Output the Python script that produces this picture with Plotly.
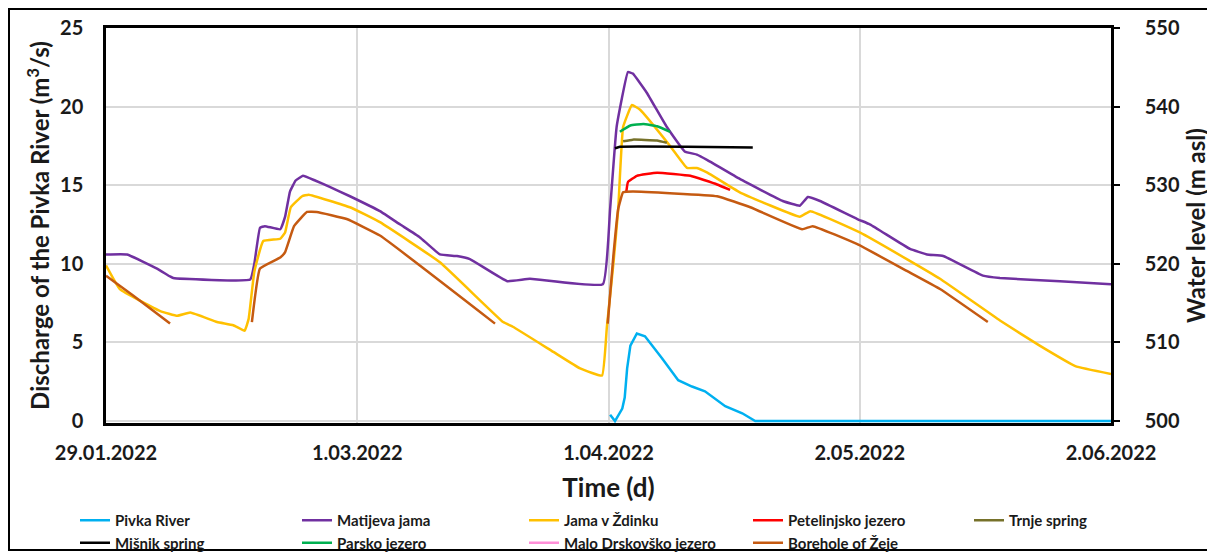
import pandas as pd
import plotly.graph_objects as go

START = pd.Timestamp("2022-01-29")

# ---- data (day offsets from 29.01.2022) ----
pivka_days = [62.2, 62.8, 63.7, 64.0, 64.3, 64.7, 65.5, 66.5, 68.6, 70.6, 72.3, 73.9, 76.4, 78.5, 80.1, 82.0, 124.0]
pivka_q = [0.4, 0.0, 0.8, 1.5, 3.35, 4.8, 5.57, 5.4, 4.0, 2.6, 2.2, 1.9, 0.95, 0.5, 0.0, 0.0, 0.0]

matijeva_days = [0, 2.6, 6.3, 7.9, 8.3, 17.8, 18.3, 19.0, 19.6, 21.5, 22.1, 22.7, 23.4, 24.3, 25.8, 27.6,
                 30.1, 33.8, 36.3, 38.7, 41.2, 43.3, 44.9, 49.5, 52.3, 61.3, 62.2, 63.0, 64.4, 65.0,
                 66.7, 69.2, 71.4, 72.9, 74.2, 78.2, 83.5, 85.6, 86.6, 88.1, 92.7, 94.3, 99.2, 101.3,
                 103.3, 108.2, 110.3, 117.7, 124.0]
matijeva_h = [521.2, 521.2, 519.4, 518.4, 518.2, 518.0, 520.0, 524.6, 524.8, 524.4, 526.0, 529.2, 530.6,
              531.2, 530.6, 529.8, 528.6, 526.7, 525.0, 523.4, 521.2, 521.0, 520.6, 517.8, 518.1, 517.4,
              527.0, 537.4, 544.4, 544.2, 541.8, 537.4, 534.3, 533.9, 533.2, 530.8, 528.0, 527.4, 528.5,
              528.0, 525.7, 525.0, 521.9, 521.2, 521.0, 518.5, 518.2, 517.8, 517.4]

zdinku_days = [0, 1.7, 6.7, 8.8, 10.4, 13.7, 15.7, 17.1, 17.6, 18.3, 19.4, 21.5, 22.1, 22.8, 24.2, 25.0,
               30.1, 33.8, 41.2, 49.0, 50.2, 55.2, 58.5, 61.2, 61.8, 62.6, 63.2, 63.8, 64.9, 65.9, 69.6,
               71.7, 72.9, 74.2, 78.2, 85.6, 86.9, 93.0, 98.8, 102.9, 110.3, 115.2, 119.6, 124.0]
zdinku_h = [519.8, 516.8, 514.0, 513.4, 513.8, 512.6, 512.2, 511.5, 513.0, 519.0, 522.9, 523.2, 524.0,
            527.2, 528.6, 528.8, 527.2, 525.3, 520.2, 512.6, 512.0, 508.8, 506.7, 505.8, 512.0, 520.0,
            527.0, 537.4, 540.2, 539.6, 535.0, 532.2, 532.2, 531.6, 529.1, 526.0, 526.7, 524.0, 520.6,
            518.1, 512.8, 509.6, 507.0, 506.0]

petelinjsko_days = [64.2, 64.4, 65.5, 68.0, 72.1, 75.4, 77.0]
petelinjsko_h = [529.2, 530.4, 531.2, 531.6, 531.2, 530.1, 529.4]

trnje_days = [63.8, 65.0, 68.0, 69.2]
trnje_h = [535.6, 535.8, 535.7, 535.4]

misnik_days = [62.8, 63.4, 71.7, 79.8]
misnik_h = [534.7, 534.9, 534.9, 534.8]

parsko_days = [63.4, 64.7, 66.3, 68.0, 69.6]
parsko_h = [536.8, 537.6, 537.8, 537.5, 536.8]

malo_days = [None]
malo_h = [None]

zeje_days = [0, 3.3, 7.9, None, 18.0, 19.0, 21.5, 22.1, 23.2, 24.8, 26.0, 29.7, 33.8, 48.0, None,
             61.9, 62.6, 63.2, 63.8, 65.0, 75.4, 79.5, 85.9, 87.2, 92.7, 98.8, 102.9, 108.8]
zeje_h = [518.5, 516.0, 512.4, None, 512.6, 519.4, 520.8, 521.5, 524.8, 526.6, 526.6, 525.7, 523.6, 512.4,
          None, 512.4, 521.0, 527.0, 529.1, 529.2, 528.6, 527.2, 524.4, 524.8, 522.5, 519.1, 516.8, 512.6]

tick_days = [0, 31, 62, 93, 124]
tick_labels = ["29.01.2022", "1.03.2022", "1.04.2022", "2.05.2022", "2.06.2022"]
q_ticks = [0, 5, 10, 15, 20, 25]
h_ticks = [500, 510, 520, 530, 540, 550]


def to_dates(days):
    return [None if d is None else START + pd.Timedelta(days=d) for d in days]


FONT = "Lato"
TXT = "#1a1a1a"
fig = go.Figure()

# (name, days, values, colour, y-axis, legend column, line shape)
series = [
    ("Pivka River", pivka_days, pivka_q, "#00B0F0", "y", "legend", "linear"),
    ("Matijeva jama", matijeva_days, matijeva_h, "#7030A0", "y2", "legend2", "spline"),
    ("Jama v Ždinku", zdinku_days, zdinku_h, "#FFC000", "y2", "legend3", "spline"),
    ("Petelinjsko jezero", petelinjsko_days, petelinjsko_h, "#FF0000", "y2", "legend4", "spline"),
    ("Trnje spring", trnje_days, trnje_h, "#76712A", "y2", "legend5", "spline"),
    ("Mišnik spring", misnik_days, misnik_h, "#000000", "y2", "legend", "spline"),
    ("Parsko jezero", parsko_days, parsko_h, "#00B050", "y2", "legend2", "spline"),
    ("Malo Drskovško jezero", malo_days, malo_h, "#FF8FD8", "y2", "legend3", "spline"),
    ("Borehole of Žeje", zeje_days, zeje_h, "#C55A11", "y2", "legend4", "spline"),
]

for name, d, v, c, ax, lg, shp in series:
    line = dict(color=c, width=2.5, shape=shp)
    if shp == "spline":
        line["smoothing"] = 0.3
    fig.add_trace(go.Scatter(
        x=to_dates(d), y=v, name=name, mode="lines", yaxis=ax, legend=lg,
        line=line, connectgaps=False,
    ))

# The page body adds an 8 px offset; the figure is sized so the plot lands where the reference has it.
W, H = 1207, 548
ML, MR, MT, MB = 98, 104, 20, 133
PW, PH = W - ML - MR, H - MT - MB


def px_x(fx):
    return (fx - ML) / PW


def px_y(fy):
    return (H - MB - fy) / PH


leg_font = dict(family=FONT, size=15, weight="bold", color=TXT)
leg_left_px = [67, 289, 516, 740, 961]
leg_common = dict(orientation="v", xanchor="left", y=px_y(496), yanchor="top",
                  itemwidth=30, font=leg_font, tracegroupgap=0, traceorder="normal",
                  bgcolor="rgba(0,0,0,0)")
legends = {}
for i, lx in enumerate(leg_left_px):
    key = "legend" if i == 0 else f"legend{i + 1}"
    legends[key] = dict(x=px_x(lx), **leg_common)

fig.update_layout(
    width=W, height=H,
    margin=dict(l=ML, r=MR, t=MT, b=MB, autoexpand=False),
    paper_bgcolor="white", plot_bgcolor="white",
    font=dict(family=FONT, color=TXT),
    showlegend=True,
    **legends,
    xaxis=dict(
        type="date",
        range=[START, START + pd.Timedelta(days=124)],
        tickmode="array",
        tickvals=to_dates(tick_days), ticktext=tick_labels,
        tickfont=dict(family=FONT, size=20, weight="bold", color=TXT),
        showgrid=True, gridcolor="#D9D9D9", gridwidth=1.5,
        showline=True, linecolor="black", linewidth=2.5, mirror=True,
        ticks="", ticklabelstandoff=10, layer="below traces",
        title=dict(text="Time (d)", font=dict(family=FONT, size=26, weight="bold", color=TXT),
                   standoff=17),
        zeroline=False, automargin=False,
    ),
    yaxis=dict(
        range=[-0.12, 25], tickvals=q_ticks,
        tickfont=dict(family=FONT, size=20, weight="bold", color=TXT),
        showgrid=True, gridcolor="#D9D9D9", gridwidth=1.5,
        showline=True, linecolor="black", linewidth=2.5, layer="below traces",
        ticks="", ticklabelstandoff=16, zeroline=False, automargin=False,
        title=dict(text="Discharge of the Pivka River (m<sup>3</sup>/s)",
                   font=dict(family=FONT, size=24, weight="bold", color=TXT), standoff=4),
    ),
    yaxis2=dict(
        range=[499.76, 550], tickvals=h_ticks,
        overlaying="y", side="right",
        tickfont=dict(family=FONT, size=20, weight="bold", color=TXT),
        showgrid=False,
        showline=True, linecolor="black", linewidth=2.5,
        ticks="outside", ticklen=6, tickwidth=2, tickcolor="black", ticklabelstandoff=21,
        zeroline=False, automargin=False,
        title=dict(text="Water level (m asl)",
                   font=dict(family=FONT, size=24, weight="bold", color=TXT), standoff=10),
    ),
    shapes=[dict(type="rect", xref="paper", yref="paper",
                 x0=px_x(1), x1=px_x(1202), y0=px_y(542), y1=px_y(1),
                 line=dict(color="black", width=2), fillcolor="rgba(0,0,0,0)", layer="below")],
)

fig.write_html("out.html")
